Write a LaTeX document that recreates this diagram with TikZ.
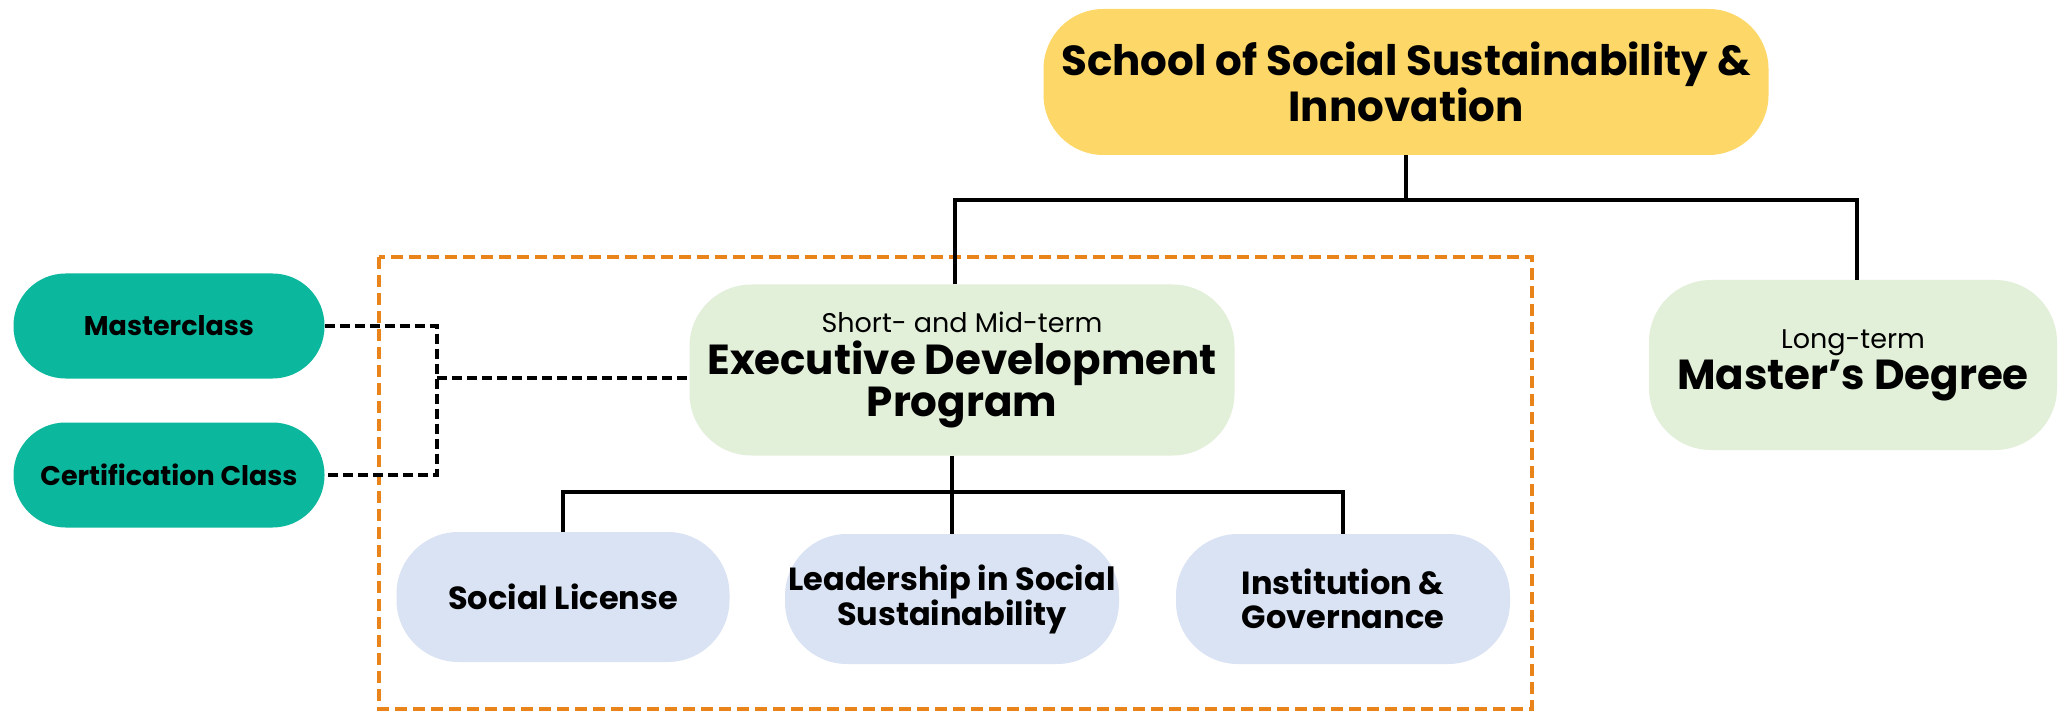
\documentclass[tikz,border=0pt]{standalone}
\usepackage{fontspec}
\setmainfont{Poppins}
\definecolor{ylw}{HTML}{FDD868}
\definecolor{teal1}{HTML}{0BB89D}
\definecolor{lgreen}{HTML}{E2EFD9}
\definecolor{lblue}{HTML}{DAE3F3}
\definecolor{orng}{HTML}{E8841A}
\begin{document}
\begin{tikzpicture}[x=1pt,y=-1pt,
  box/.style={rectangle, inner sep=0pt, align=center, text=black},
  conn/.style={line width=3.5pt, black},
  dconn/.style={line width=4pt, black, dash pattern=on 10pt off 5pt},
  frame/.style={line width=3.5pt, orng, dash pattern=on 12pt off 6pt}]
\useasboundingbox (0,0) rectangle (2059,711);
\fill[white] (0,0) rectangle (2059,711);

\node[box, fill=ylw, rounded corners=60pt, minimum width=725pt, minimum height=146pt,
  font=\fontsize{42}{40}\selectfont\bfseries] (top) at (1406,82)
  {School of Social Sustainability \&\\Innovation};

\node[box, fill=lgreen, rounded corners=62pt, minimum width=545pt, minimum height=171pt,
  font=\fontsize{42}{42}\selectfont\bfseries] (edp) at (962,370)
  {{\fontsize{27}{30}\selectfont\mdseries Short- and Mid-term}\\Executive Development\\Program};

\node[box, fill=lgreen, rounded corners=62pt, minimum width=408pt, minimum height=170pt,
  font=\fontsize{42}{41}\selectfont\bfseries] (mast) at (1853,365)
  {{\fontsize{27}{30}\selectfont\mdseries Long-term}\\Master’s Degree};

\node[box, fill=teal1, rounded corners=52pt, minimum width=311pt, minimum height=105pt,
  font=\fontsize{27}{32}\selectfont\bfseries] (mc) at (169,326) {Masterclass};
\node[box, fill=teal1, rounded corners=52pt, minimum width=311pt, minimum height=105pt,
  font=\fontsize{27}{32}\selectfont\bfseries] (cc) at (169,475) {Certification Class};

\node[box, fill=lblue, rounded corners=62pt, minimum width=333pt, minimum height=130pt,
  font=\fontsize{32}{34}\selectfont\bfseries] (sl) at (563,597) {Social License};
\node[box, fill=lblue, rounded corners=62pt, minimum width=334pt, minimum height=130pt,
  font=\fontsize{32}{34}\selectfont\bfseries] (ls) at (952,599) {Leadership in Social\\Sustainability};
\node[box, fill=lblue, rounded corners=62pt, minimum width=334pt, minimum height=130pt,
  font=\fontsize{32}{34}\selectfont\bfseries] (ig) at (1343,599) {Institution \&\\Governance};

% frame
\draw[frame] (379,257) rectangle (1532,709);

% connectors
\coordinate (j1) at (1406,200);
\draw[conn] (top.south) -- (j1);
\draw[conn] ([xshift=-7pt]edp.north) |- (j1) -| ([xshift=4pt]mast.north);

\coordinate (j2) at (952,492);
\draw[conn] ([xshift=-10pt]edp.south) -- (j2);
\draw[conn] (sl.north) |- (j2) -| (ig.north);
\draw[conn] (j2) -- (ls.north);

\coordinate (dm) at (437,378);
\draw[dconn] (mc.east) -| (dm) |- (cc.east);
\draw[dconn] (dm) -- (dm -| edp.west);
\end{tikzpicture}
\end{document}
